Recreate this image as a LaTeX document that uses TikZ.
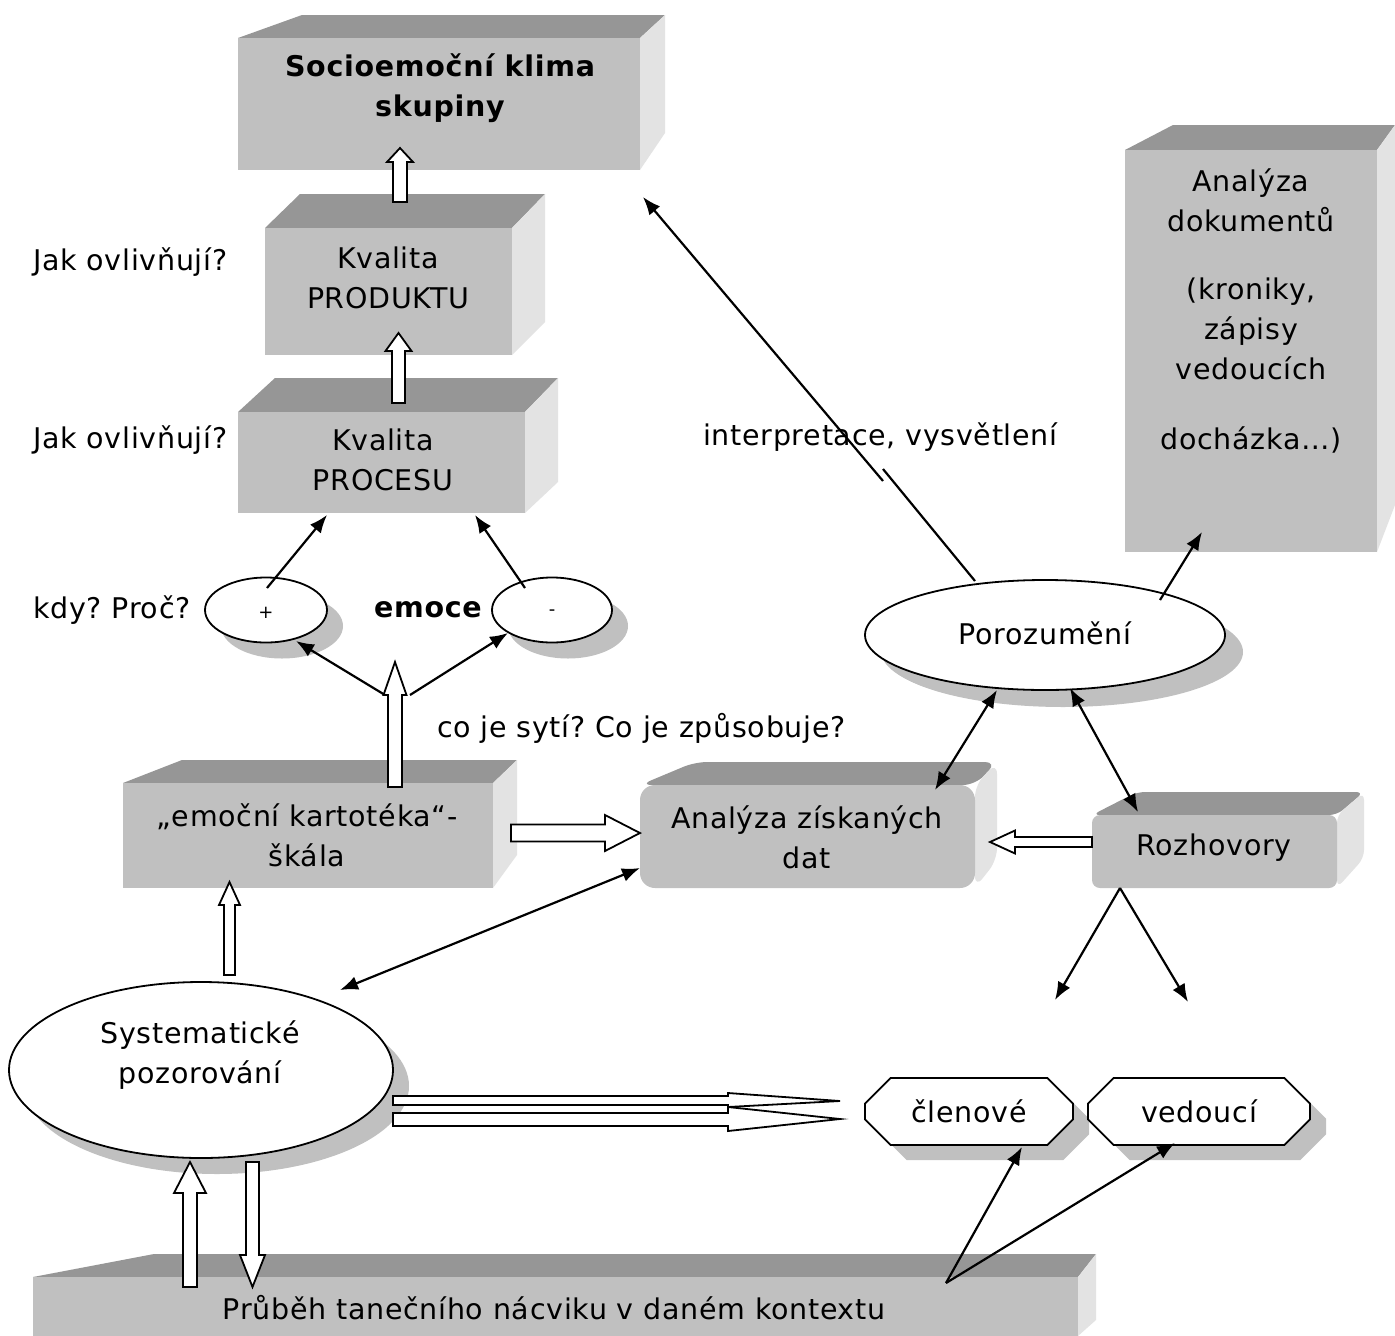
\documentclass[tikz,border=0pt]{standalone}
\usepackage{fontspec}
\setmainfont{DejaVu Sans}[LetterSpace=2.5]
\usetikzlibrary{arrows.meta,shapes.geometric,shapes.misc,shadows,calc}
\definecolor{topc}{RGB}{150,150,150}
\definecolor{frontc}{RGB}{192,192,192}
\definecolor{sidec}{RGB}{227,227,227}
\definecolor{shadc}{RGB}{192,192,192}
% name, x1,y1,x2,y2, backleft, backright, backy, rightbottom
\newcommand\mkcube[9]{%
  \fill[topc] (#2,#3) -- (#6,#8) -- (#7,#8) -- (#4,#3) -- cycle;
  \fill[sidec] (#4,#3) -- (#7,#8) -- (#7,#9) -- (#4,#5) -- cycle;
  \node[face, minimum width={(#4-#2)*1pt}, minimum height={(#5-#3)*1pt}] (#1) at ({(#2+#4)/2},{(#3+#5)/2}) {};
}
% hollow vertical arrow: xc, ytip, ybottom, shaft half, head half, head length (positive = up)
\newcommand\hollowv[6]{%
  \filldraw[hollow] ({#1-#4},#3) -- ({#1-#4},{#2+#6}) -- ({#1-#5},{#2+#6}) -- (#1,#2) -- ({#1+#5},{#2+#6}) -- ({#1+#4},{#2+#6}) -- ({#1+#4},#3) -- cycle;
}
% hollow horizontal arrow: yc, xtip, xtail, shaft half, head half, head length (signed)
\newcommand\hollowh[6]{%
  \filldraw[hollow] (#3,{#1-#4}) -- ({#2-#6},{#1-#4}) -- ({#2-#6},{#1-#5}) -- (#2,#1) -- ({#2-#6},{#1+#5}) -- ({#2-#6},{#1+#4}) -- (#3,{#1+#4}) -- cycle;
}
\frenchspacing
\begin{document}
\frenchspacing
\begin{tikzpicture}[x=1pt,y=-1pt,
  font=\fontsize{28.5}{40}\selectfont,
  face/.style={fill=frontc, inner sep=0pt, draw=none},
  txt/.style={align=center, inner sep=0pt},
  conn/.style={line width=2.2pt, -{Latex[length=18pt,width=14pt]}},
  bconn/.style={line width=2.2pt, {Latex[length=18pt,width=14pt]}-{Latex[length=18pt,width=14pt]}},
  hollow/.style={fill=white, draw=black, line width=1.8pt, line join=miter},
  oval/.style={ellipse, draw=black, line width=1.8pt, fill=white, inner sep=0pt,
    drop shadow={shadow xshift=16pt, shadow yshift=-16pt, fill=shadc, opacity=1}},
  octa/.style={chamfered rectangle, chamfered rectangle xsep=18pt, chamfered rectangle ysep=14pt,
    draw=black, line width=1.8pt, fill=white, inner sep=0pt, minimum height=67pt,
    drop shadow={shadow xshift=16pt, shadow yshift=-15pt, fill=shadc, opacity=1}}
]
\useasboundingbox[fill=white] (0,0) rectangle (1395,1336);

% ---------- boxes ----------
\mkcube{socio}{238}{38}{640}{170}{302}{665}{15}{133}
\node[txt, font=\fontsize{28.5}{40}\selectfont\bfseries] (sociot) at (440,88) {Socioemoční klima\\skupiny};

\mkcube{prod}{265}{228}{512}{355}{300}{545}{194}{322}
\node[txt] (prodt) at (388,278) {Kvalita\\PRODUKTU};

\mkcube{proc}{238}{412}{525}{513}{275}{558}{378}{482}
\node[txt] (proct) at (383,460) {Kvalita\\PROCESU};

\mkcube{docs}{1125}{150}{1377}{552}{1173}{1395}{125}{505}
\node[txt] (docs1) at (1251,200) {Analýza\\dokumentů};
\node[txt] (docs2) at (1251,329) {(kroniky,\\zápisy\\vedoucích};
\node[txt] (docs3) at (1251,440) {docházka…)};

\mkcube{kart}{123}{783}{493}{888}{182}{517}{760}{855}
\node[txt] (kartt) at (307,835) {„emoční kartotéka“-\\škála};

% Analyza ziskanych dat (rounded)
\fill[topc, rounded corners=12pt] (640,785) -- (695,762) -- (997,762) -- (975,785) -- cycle;
\fill[sidec, rounded corners=12pt] (975,785) -- (997,762) -- (997,860) -- (975,888) -- cycle;
\node[face, rounded corners=15pt, minimum width=335pt, minimum height=103pt] (anal) at (807.5,836.5) {};
\node[txt] (analt) at (807,837) {Analýza získaných\\dat};

% Rozhovory (rounded)
\fill[topc, rounded corners=8pt] (1092,815) -- (1137,792) -- (1364,792) -- (1337,815) -- cycle;
\fill[sidec, rounded corners=8pt] (1337,815) -- (1364,792) -- (1364,858) -- (1337,888) -- cycle;
\node[face, rounded corners=8pt, minimum width=245pt, minimum height=73pt] (rozh) at (1214.5,851.5) {};
\node[txt] (rozht) at (1214,848) {Rozhovory};

% Prubeh bar
\mkcube{bar}{33}{1277}{1078}{1336}{154}{1096}{1254}{1320}
\node[txt] (bart) at (554,1308) {Průběh tanečního nácviku v daném kontextu};

% ---------- ellipses ----------
\node[oval, minimum width=122pt, minimum height=65pt] (plus) at (266,610) {};
\node[txt, font=\fontsize{18}{22}\selectfont] (plust) at (266,613) {+};
\node[oval, minimum width=120pt, minimum height=65pt] (minus) at (552,610) {};
\node[txt, font=\fontsize{18}{22}\selectfont] (minust) at (552,613) {-};
\node[oval, minimum width=360pt, minimum height=110pt,
  drop shadow={shadow xshift=18pt, shadow yshift=-17pt, fill=shadc, opacity=1}] (poro) at (1045,635) {};
\node[txt] (porot) at (1045,633) {Porozumění};
\node[oval, minimum width=384pt, minimum height=176pt] (sys) at (201,1070) {};
\node[txt] (syst) at (200,1055) {Systematické\\pozorování};

% ---------- octagons ----------
\node[octa, minimum width=208pt] (clen) at (969,1111.5) {členové};
\node[octa, minimum width=222pt] (ved) at (1199,1111.5) {vedoucí};

% ---------- free texts ----------
\node[txt, anchor=west] (jak1) at (33,262) {Jak ovlivňují?};
\node[txt, anchor=west] (jak2) at (33,440) {Jak ovlivňují?};
\node[txt, anchor=west] (kdy) at (33,610) {kdy? Proč?};
\node[txt, font=\fontsize{28.5}{40}\selectfont\bfseries] (emoce) at (428,610) {emoce};
\node[txt, anchor=west] (coje) at (437,728) {co je sytí? Co je způsobuje?};
\node[txt, anchor=west] (interp) at (703,437) {interpretace, vysvětlení};

% ---------- hollow arrows ----------
\hollowv{400}{148}{202}{7}{13}{14}
\hollowv{398.5}{333}{403}{6.5}{13}{18}
\hollowv{395}{662}{787}{7}{11.5}{33}
\hollowv{229.5}{882}{975}{5.5}{10.5}{23}
\hollowv{190}{1162}{1287}{7}{16}{31}
\hollowv{252.5}{1287}{1162}{6.5}{12.5}{-32}
\hollowh{833}{640}{511}{8.5}{18}{35}
\hollowh{842}{990}{1092}{5}{11.5}{-25}
% double hollow arrows toward members
\filldraw[hollow] (393,1096) -- (728,1096) -- (728,1093) -- (840,1101) -- (728,1107) -- (728,1105) -- (393,1105) -- cycle;
\filldraw[hollow] (393,1113) -- (728,1113) -- (728,1107) -- (840,1119) -- (728,1131) -- (728,1126) -- (393,1126) -- cycle;

% ---------- connector coordinates ----------
\coordinate (plusTop) at (267,588);
\coordinate (procL) at (327,515);
\coordinate (minusTop) at (525,588);
\coordinate (procR) at (475,515);
\coordinate (kartL) at (385,695);
\coordinate (kartR) at (410,695);
\coordinate (plusIn) at (296,641);
\coordinate (minusIn) at (508,633);
\coordinate (poroTop) at (975,581);
\coordinate (brk1) at (883,469);
\coordinate (brk2) at (883,481);
\coordinate (interpTip) at (643,197);
\coordinate (poroR) at (1160,600);
\coordinate (docsIn) at (1202,532);
\coordinate (poroB1) at (997,690);
\coordinate (analIn) at (935,790);
\coordinate (poroB2) at (1070,688);
\coordinate (rozhIn) at (1138,812);
\coordinate (sysIn) at (340,990);
\coordinate (analIn2) at (640,868);
\coordinate (rozhB) at (1120,888);
\coordinate (memL) at (1055,1000);
\coordinate (memR) at (1188,1002);
\coordinate (barP) at (946,1283);
\coordinate (clenIn) at (1022,1147);
\coordinate (vedIn) at (1175,1143);

% ---------- black connectors ----------
\draw[conn] (plusTop) -- (procL);
\draw[conn] (minusTop) -- (procR);
\draw[conn] (kartL) -- (plusIn);
\draw[conn] (kartR) -- (minusIn);
\draw[line width=2.2pt] (poroTop) -- (brk1);
\draw[conn] (brk2) -- (interpTip);
\draw[conn] (poroR) -- (docsIn);
\draw[bconn] (poroB1) -- (analIn);
\draw[bconn] (poroB2) -- (rozhIn);
\draw[bconn] (sysIn) -- (analIn2);
\draw[conn] (rozhB) -- (memL);
\draw[conn] (rozhB) -- (memR);
\draw[conn] (barP) -- (clenIn);
\draw[conn] (barP) -- (vedIn);
\end{tikzpicture}
\end{document}
